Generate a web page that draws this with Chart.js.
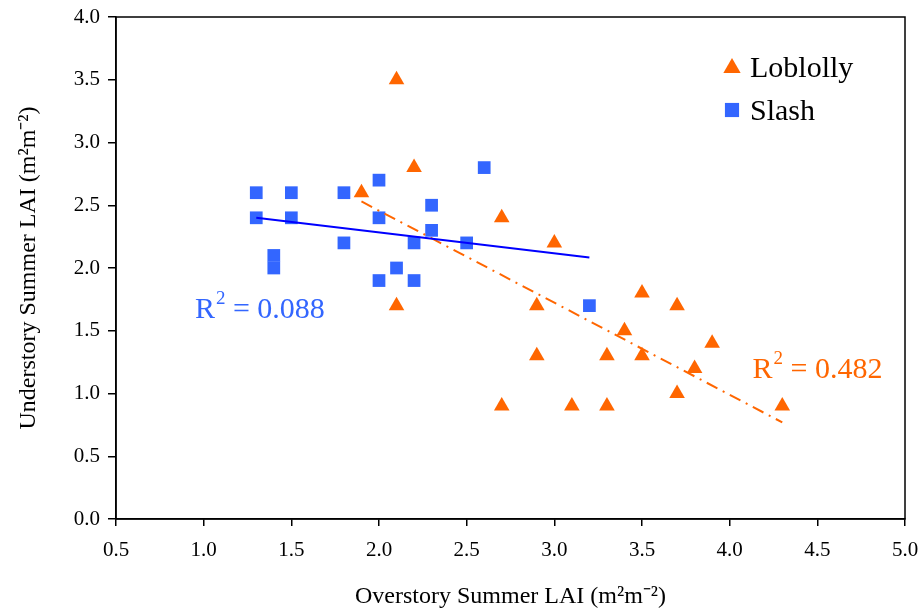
<html>
<head>
  <script src="https://cdn.jsdelivr.net/npm/chart.js"></script>
  <title>Understory vs Overstory LAI</title>
</head>
<body style="margin:0;background:#fff;">
  <canvas id="myChart" width="922" height="615" style="display:block;width:922px;height:615px;"></canvas>
  <script>
    // 데이터
    const loblollyX = [2.1, 2.2, 1.9, 2.7, 3.0, 2.1, 2.9, 3.5, 3.7, 3.4, 3.9, 2.9, 3.3, 3.5, 3.8, 3.7, 2.7, 3.1, 3.3, 4.3];
    const loblollyY = [3.5, 2.8, 2.6, 2.4, 2.2, 1.7, 1.7, 1.8, 1.7, 1.5, 1.4, 1.3, 1.3, 1.3, 1.2, 1.0, 0.9, 0.9, 0.9, 0.9];
    const slashX = [1.3, 1.3, 1.4, 1.4, 1.5, 1.5, 1.8, 1.8, 2.0, 2.0, 2.0, 2.1, 2.2, 2.2, 2.3, 2.3, 2.5, 2.6, 3.2];
    const slashY = [2.6, 2.4, 2.1, 2.0, 2.6, 2.4, 2.6, 2.2, 2.7, 2.4, 1.9, 2.0, 2.2, 1.9, 2.5, 2.3, 2.2, 2.8, 1.7];
    const seriesNames = ["Loblolly", "Slash"];
    const r2Labels = ["0.482", "0.088"];

    const ORANGE = "#FF6600";
    const BLUE = "#3366FF";
    const FONT = "'Liberation Serif', 'Times New Roman', serif";

    function toPoints(xs, ys) {
      return xs.map((x, i) => ({ x: x, y: ys[i] }));
    }

    // 최소제곱 추세선 (데이터 범위 양끝)
    function trendLine(xs, ys) {
      const n = xs.length;
      const mx = xs.reduce((a, b) => a + b, 0) / n;
      const my = ys.reduce((a, b) => a + b, 0) / n;
      let sxy = 0, sxx = 0;
      for (let i = 0; i < n; i++) {
        sxy += (xs[i] - mx) * (ys[i] - my);
        sxx += (xs[i] - mx) * (xs[i] - mx);
      }
      const b = sxy / sxx;
      const a = my - b * mx;
      const x0 = Math.min(...xs), x1 = Math.max(...xs);
      return [{ x: x0, y: a + b * x0 }, { x: x1, y: a + b * x1 }];
    }

    function drawMarker(ctx, style, x, y, r, color) {
      ctx.fillStyle = color;
      ctx.beginPath();
      if (style === "triangle") {
        ctx.moveTo(x, y - r);
        ctx.lineTo(x + r * 0.866, y + r * 0.5);
        ctx.lineTo(x - r * 0.866, y + r * 0.5);
        ctx.closePath();
      } else {
        const s = r * Math.SQRT1_2;
        ctx.rect(x - s, y - s, 2 * s, 2 * s);
      }
      ctx.fill();
    }

    function drawR2(ctx, text, x, y, color) {
      ctx.fillStyle = color;
      ctx.textBaseline = "alphabetic";
      ctx.textAlign = "left";
      ctx.font = "30px " + FONT;
      ctx.fillText("R", x, y);
      let w = ctx.measureText("R").width;
      ctx.font = "19px " + FONT;
      ctx.fillText("2", x + w + 1, y - 14);
      w += ctx.measureText("2").width + 1;
      ctx.font = "30px " + FONT;
      ctx.fillText(" = " + text, x + w, y);
    }

    const extras = {
      id: "extras",
      afterDraw: (chart) => {
        const { ctx, chartArea } = chart;
        ctx.save();
        // 바깥 테두리
        ctx.strokeStyle = "#000";
        ctx.lineWidth = 1.5;
        ctx.strokeRect(chartArea.left, chartArea.top, chartArea.right - chartArea.left, chartArea.bottom - chartArea.top);

        // 범례
        const lx = chartArea.right - 173;
        drawMarker(ctx, "triangle", lx, 68, 10, ORANGE);
        drawMarker(ctx, "rect", lx, 110, 10, BLUE);
        ctx.fillStyle = "#000";
        ctx.font = "30px " + FONT;
        ctx.textBaseline = "alphabetic";
        ctx.textAlign = "left";
        ctx.fillText(seriesNames[0], lx + 18, 77);
        ctx.fillText(seriesNames[1], lx + 18, 120);

        // R² 표시
        const xs = chart.scales.x, ys = chart.scales.y;
        drawR2(ctx, r2Labels[1], xs.getPixelForValue(0.95), ys.getPixelForValue(1.6), BLUE);
        drawR2(ctx, r2Labels[0], xs.getPixelForValue(4.13), ys.getPixelForValue(1.12), ORANGE);
        ctx.restore();
      },
    };

    const ctx1 = document.getElementById("myChart").getContext("2d");
    new Chart(ctx1, {
      type: "scatter",
      data: {
        datasets: [
          {
            label: seriesNames[1] + " trend",
            type: "line",
            data: trendLine(slashX, slashY),
            borderColor: "#0000FF",
            borderWidth: 2,
            pointRadius: 0,
            fill: false,
          },
          {
            label: seriesNames[0] + " trend",
            type: "line",
            data: trendLine(loblollyX, loblollyY),
            borderColor: ORANGE,
            borderWidth: 2,
            borderDash: [12, 6, 2, 6],
            pointRadius: 0,
            fill: false,
          },
          {
            label: seriesNames[1],
            data: toPoints(slashX, slashY),
            pointStyle: "rect",
            pointRadius: 9,
            backgroundColor: BLUE,
            borderWidth: 0,
          },
          {
            label: seriesNames[0],
            data: toPoints(loblollyX, loblollyY),
            pointStyle: "triangle",
            pointRadius: 9,
            backgroundColor: ORANGE,
            borderWidth: 0,
          },
        ],
      },
      options: {
        responsive: false,
        animation: false,
        layout: { padding: { top: 17, right: 17, left: 0, bottom: 0 } },
        scales: {
          x: {
            type: "linear",
            min: 0.5,
            max: 5.0,
            afterFit: (s) => { s.height = 96; s.paddingLeft = 0; s.paddingRight = 0; },
            border: { color: "#000", width: 1.5 },
            grid: { drawOnChartArea: false, color: "#000", tickLength: 7, lineWidth: 1.5 },
            ticks: {
              stepSize: 0.5,
              color: "#000",
              padding: 12,
              font: { family: FONT, size: 21 },
              callback: (v) => v.toFixed(1),
            },
            title: {
              display: true,
              text: "Overstory Summer LAI (m\u00B2m\u207B\u00B2)",
              color: "#000",
              font: { family: FONT, size: 24 },
              padding: { top: 10 },
            },
          },
          y: {
            min: 0,
            max: 4.0,
            afterFit: (s) => { s.width = 116; s.paddingTop = 0; s.paddingBottom = 0; },
            border: { color: "#000", width: 1.5 },
            grid: { drawOnChartArea: false, color: "#000", tickLength: 8, lineWidth: 1.5 },
            ticks: {
              stepSize: 0.5,
              color: "#000",
              padding: 8,
              font: { family: FONT, size: 21 },
              callback: (v) => v.toFixed(1),
            },
            title: {
              display: true,
              text: "Understory Summer LAI (m\u00B2m\u207B\u00B2)",
              color: "#000",
              font: { family: FONT, size: 24 },
              padding: { top: 14, bottom: 0 },
            },
          },
        },
        plugins: {
          legend: { display: false },
          tooltip: { enabled: false },
        },
      },
      plugins: [extras],
    });
  </script>
</body>
</html>
